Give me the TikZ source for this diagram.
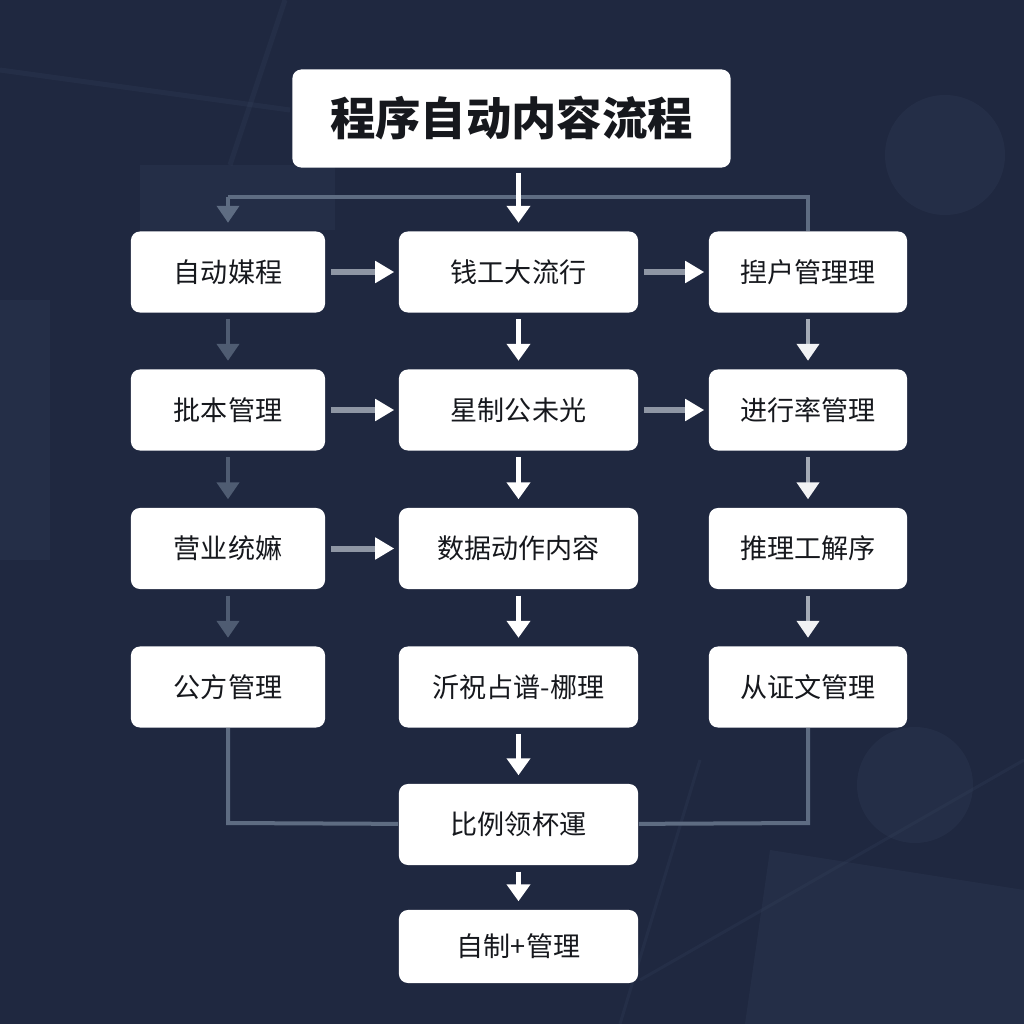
\documentclass[tikz,border=0pt]{standalone}
\usepackage{fontspec}
\setmainfont{Noto Sans CJK SC}
\usepackage{tikz}
\usetikzlibrary{arrows.meta}
\usetikzlibrary{backgrounds}
\definecolor{bgnavy}{HTML}{1F2840}
\definecolor{bgline}{HTML}{3A4660}
\definecolor{busgray}{HTML}{5E6C82}
\definecolor{leftgray}{HTML}{4F5C72}
\definecolor{rightgray}{HTML}{A3AAB5}
\definecolor{hgray}{HTML}{8E96A4}
\definecolor{inkdark}{HTML}{16181D}
\tikzset{box/.style={fill=white, rounded corners=0.09cm, text=inkdark,
  font=\fontsize{7.7}{8}\selectfont, inner sep=0pt, minimum height=0.81cm}}
\tikzset{lb/.style={box, minimum width=1.94cm}}
\tikzset{cb/.style={box, minimum width=2.39cm}}
\tikzset{rb/.style={box, minimum width=1.98cm}}
\tikzset{ttl/.style={box, minimum width=4.38cm, minimum height=0.98cm,
  font=\fontsize{12.9}{13}\selectfont\bfseries}}
\tikzset{down/.style={draw=white, line width=0.045cm,
  -{Triangle[width=0.23cm, length=0.17cm]}}}
\tikzset{lfade/.style={draw=leftgray, line width=0.045cm,
  -{Triangle[width=0.22cm, length=0.17cm]}, shorten <=0.06cm, shorten >=0.08cm}}
\tikzset{rfade/.style={draw=rightgray, line width=0.045cm,
  -{Triangle[width=0.22cm, length=0.17cm, color=white!85!rightgray]},
  shorten <=0.06cm, shorten >=0.08cm}}
\tikzset{hflow/.style={draw=hgray, line width=0.06cm,
  -{Triangle[width=0.21cm, length=0.19cm, color=white]},
  shorten <=0.05cm, shorten >=0.04cm}}
\tikzset{bus/.style={draw=busgray, line width=0.04cm}}
\begin{document}
\begin{tikzpicture}[x=0.01cm, y=-0.01cm]
    \fill[bgnavy] (0,0) rectangle (1024,1024);
    \useasboundingbox (0,0) rectangle (1024,1024);
    % faint background scenery
    \begin{scope}[opacity=0.22]
      \draw[bgline, line width=0.05cm] (0,70) -- (290,110);
      \draw[bgline, line width=0.05cm] (285,0) -- (230,165);
      \draw[bgline, line width=0.03cm] (640,980) -- (1024,760);
      \draw[bgline, line width=0.03cm] (700,760) -- (620,1024);
      \fill[bgline] (945,155) circle (60);
      \fill[bgline] (915,785) circle (58);
      \fill[bgline] (770,850) -- (1024,890) -- (1024,1024) -- (745,1024) -- cycle;
      \fill[bgline] (140,165) rectangle (335,230);
      \fill[bgline] (0,300) rectangle (50,560);
    \end{scope}
    % title
    \node[ttl] (t) at (511.5,118.5) {程序自动内容流程};
    % row 1
    \node[lb] (l1) at (228,272) {自动媒程};
    \node[cb] (c1) at (518.5,272) {钱工大流行};
    \node[rb] (r1) at (808,272) {揑户管理理};
    % row 2
    \node[lb] (l2) at (228,410) {批本管理};
    \node[cb] (c2) at (518.5,410) {星制公未光};
    \node[rb] (r2) at (808,410) {进行率管理};
    % row 3
    \node[lb] (l3) at (228,548.5) {营业统嫲};
    \node[cb] (c3) at (518.5,548.5) {数据动作内容};
    \node[rb] (r3) at (808,548.5) {推理工解序};
    % row 4
    \node[lb] (l4) at (228,687) {公方管理};
    \node[cb] (c4) at (518.5,687) {沂祝占谱-梛理};
    \node[rb] (r4) at (808,687) {从证文管理};
    % bottom
    \node[cb] (b5) at (518.5,824.5) {比例领杯運};
    \node[cb, minimum height=0.73cm] (b6) at (518.5,946.5) {自制+管理};
    % bracket under the title
    \coordinate (bl) at (228,197);
    \coordinate (br) at (808,197);
    \draw[bus] (bl) -- (br) -- (r1);
    \draw[bus, -{Triangle[width=0.22cm, length=0.17cm]}, shorten >=0.08cm] (bl) -- (l1);
    % bottom joins
    \coordinate (ql) at (228,823);
    \coordinate (qr) at (808,823);
    \draw[bus] (l4) -- (ql) -- (b5);
    \draw[bus] (r4) -- (qr) -- (b5);
    % centre column
    \draw[down, shorten <=0.05cm, shorten >=0.08cm] (t.south -| c1) -- (c1);
    \foreach \a/\b in {c1/c2, c2/c3, c3/c4, c4/b5, b5/b6}
      \draw[down, shorten <=0.06cm, shorten >=0.08cm] (\a) -- (\b);
    % side columns
    \foreach \a/\b in {l1/l2, l2/l3, l3/l4}
      \draw[lfade] (\a) -- (\b);
    \foreach \a/\b in {r1/r2, r2/r3, r3/r4}
      \draw[rfade] (\a) -- (\b);
    % across
    \foreach \a/\b in {l1/c1, c1/r1, l2/c2, c2/r2, l3/c3}
      \draw[hflow] (\a) -- (\b);
  \end{tikzpicture}
\end{document}
